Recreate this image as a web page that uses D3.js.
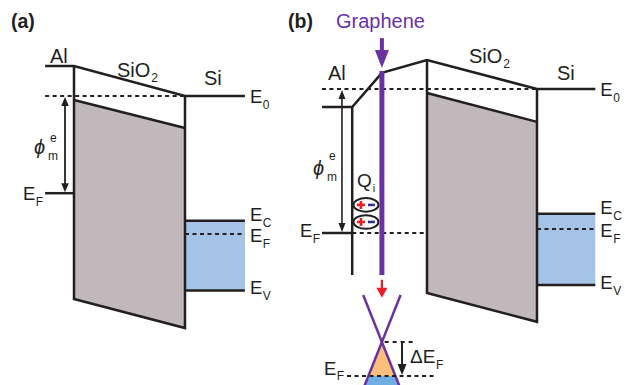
<!DOCTYPE html>
<html>
<head>
<meta charset="utf-8">
<script src="https://cdn.jsdelivr.net/npm/d3@7"></script>
<style>
  html, body { margin: 0; padding: 0; background: #fff; }
  svg { display: block; font-family: "Liberation Sans", Arial, Helvetica, sans-serif; }
</style>
</head>
<body>
<svg id="fig" width="625" height="385"></svg>
<script>
// Energies in eV relative to the Si vacuum level E0 (up = positive).
// Positions in nm, with the SiO2 layer spanning 0..10.

const panelTags = ["(a)", "(b)"];
const siLevelNames = ["0", "C", "F", "V"];          // E0, EC, EF, EV

// (a) Al / SiO2 / Si
const alStartA = -2.6, siEndA = 15.4;
const alVacuumA = 1.25, alFermiA = -4.05;
const oxTopA = [-0.17, -1.33];        // SiO2 conduction edge, Al side -> Si side
const oxBottomA = [-8.46, -9.67];     // SiO2 valence edge
const siLevelsA = [0, -5.2, -5.75, -8.1];
const phiArrowXA = -0.81;

// (b) Al / graphene / SiO2 / Si
const alStartB = -9.55, alWallB = -6.8, siEndB = 15.3;
const alVacuumB = -0.75, alFermiB = -6.0, alWallBottomB = -7.75;
const vacuumPathB = [[-4.1, 0.67], [0, 1.21]];   // vacuum level across the Al/graphene gap
const oxTopB = [-0.17, -1.37];
const oxBottomB = [-8.5, -9.7];
const siLevelsB = [0, -5.2, -5.83, -8.17];
const phiArrowXB = -7.73;
const grapheneX = -4.1, grapheneTop = 0.75, grapheneBottom = -7.75;
const grapheneArrow = [2.12, 0.87];               // tail, tip
const dipoleX = -5.55, dipoleLevels = [-4.83, -5.54];
const shiftArrow = [-7.95, -8.7];                 // tail, tip (red)

// Graphene Dirac cone
const diracE = -10.54, coneTopE = -8.58, coneBottomE = -12.6, coneTopHalf = 1.7;
const grapheneFermi = -11.96;
const deltaArrowX = -2.27, deltaDashEnd = -1.18;
const fermiDash = [-7.27, 0.9];

const INK = "#231f20", GRAY = "#c0b8ba", SIBLUE = "#a4c3e6";
const PURPLE = "#6a32a0", RED = "#ed1c24", ORANGE = "#f9bf7b", CONEBLUE = "#6faee3";

const svg = d3.select("#fig");
const line = d3.line();

function poly(g, pts, x, y, stroke, width, dash) {
  return g.append("path")
    .attr("d", line(pts.map(p => [x(p[0]), y(p[1])])))
    .attr("fill", "none").attr("stroke", stroke).attr("stroke-width", width)
    .attr("stroke-linejoin", "miter").attr("stroke-dasharray", dash || null);
}
function area(g, pts, x, y, fill) {
  return g.append("path")
    .attr("d", line(pts.map(p => [x(p[0]), y(p[1])])) + "Z")
    .attr("fill", fill).attr("stroke", "none");
}
// filled triangular head, tip at (px,py), pointing up (dir=-1) or down (dir=1)
function head(g, px, py, dir, len, half, fill) {
  g.append("path")
    .attr("d", `M${px},${py}L${px - half},${py - dir * len}L${px + half},${py - dir * len}Z`)
    .attr("fill", fill);
}
// text with an optional subscript run right after the main run
function txt(g, x, y, s, size, opts = {}) {
  const t = g.append("text").attr("x", x).attr("y", y).attr("font-size", size)
    .attr("fill", opts.fill || INK);
  t.append("tspan").text(s);
  if (opts.sub) {
    t.append("tspan").attr("font-size", opts.subSize || 12)
      .attr("dx", opts.subDx || 1).attr("dy", opts.subDy || 6).text(opts.sub);
  }
  if (opts.weight) t.attr("font-weight", opts.weight);
  if (opts.italic) t.attr("font-style", "italic");
  return t;
}
function eLabel(g, x, y, sub, size = 18.5, subDy = 6) {
  return txt(g, x, y, "E", size, { sub, subSize: 12, subDx: 0.5, subDy });
}

// ---------------- Panel (a) ----------------
{
  const g = svg.append("g");
  const x = d3.scaleLinear().domain([0, 10]).range([74, 185]);
  const y = d3.scaleLinear().domain([0, -1]).range([96, 120]);

  area(g, [[0, oxTopA[0]], [10, oxTopA[1]], [10, oxBottomA[1]], [0, oxBottomA[0]]], x, y, GRAY);
  area(g, [[10, siLevelsA[1]], [siEndA, siLevelsA[1]], [siEndA, siLevelsA[3]], [10, siLevelsA[3]]], x, y, SIBLUE);

  poly(g, [[alStartA, 0], [10, 0]], x, y, INK, 2, "4,3.5");
  poly(g, [[10, siLevelsA[2]], [siEndA, siLevelsA[2]]], x, y, INK, 2, "4,3.5");

  poly(g, [[alStartA, alVacuumA], [0, alVacuumA], [10, 0], [siEndA, 0]], x, y, INK, 2.5);
  poly(g, [[alStartA, alFermiA], [0, alFermiA]], x, y, INK, 2.5);
  poly(g, [[0, alVacuumA], [0, oxBottomA[0]], [10, oxBottomA[1]], [10, 0]], x, y, INK, 2.5);
  poly(g, [[0, oxTopA[0]], [10, oxTopA[1]]], x, y, INK, 2.5);
  poly(g, [[10, siLevelsA[1]], [siEndA, siLevelsA[1]]], x, y, INK, 2.5);
  poly(g, [[10, siLevelsA[3]], [siEndA, siLevelsA[3]]], x, y, INK, 2.5);

  // work-function arrow
  const ax = x(phiArrowXA);
  poly(g, [[phiArrowXA, -0.3], [phiArrowXA, alFermiA + 0.3]], x, y, INK, 1.8);
  head(g, ax, y(0) + 1, -1, 9, 3.8, INK);
  head(g, ax, y(alFermiA) - 1, 1, 9, 3.8, INK);

  txt(g, 11, 28, panelTags[0], 19.5, { weight: "bold" });
  txt(g, 50, 63, "Al", 20);
  txt(g, 117, 77, "SiO", 20, { sub: "2", subDx: 1, subDy: 5 });
  txt(g, 204, 85, "Si", 20);

  txt(g, 34, 154, "\u03D5", 20, { italic: true });
  txt(g, 50, 142, "e", 12);
  txt(g, 48, 160, "m", 12);
  eLabel(g, 23, y(alFermiA) + 7, "F");

  const lx = x(siEndA) + 5;
  const dys = [7, 0, 8, 4];
  siLevelsA.forEach((e, i) => eLabel(g, lx, y(e) + dys[i], siLevelNames[i]));
}

// ---------------- Panel (b) ----------------
{
  const g = svg.append("g");
  const x = d3.scaleLinear().domain([0, 10]).range([427, 537]);
  const y = d3.scaleLinear().domain([0, -1]).range([89, 113]);

  area(g, [[0, oxTopB[0]], [10, oxTopB[1]], [10, oxBottomB[1]], [0, oxBottomB[0]]], x, y, GRAY);
  area(g, [[10, siLevelsB[1]], [siEndB, siLevelsB[1]], [siEndB, siLevelsB[3]], [10, siLevelsB[3]]], x, y, SIBLUE);

  poly(g, [[alStartB, 0], [10, 0]], x, y, INK, 2, "4,3.5");
  poly(g, [[alWallB, alFermiB], [0, alFermiB]], x, y, INK, 2, "4,3.5");
  poly(g, [[10, siLevelsB[2]], [siEndB, siLevelsB[2]]], x, y, INK, 2, "4,3.5");

  poly(g, [[alStartB, alVacuumB], [alWallB, alVacuumB], ...vacuumPathB, [10, 0], [siEndB, 0]], x, y, INK, 2.5);
  poly(g, [[alWallB, alVacuumB], [alWallB, alWallBottomB]], x, y, INK, 2.5);
  poly(g, [[alStartB, alFermiB], [alWallB, alFermiB]], x, y, INK, 2.5);
  poly(g, [[0, vacuumPathB[1][1]], [0, oxBottomB[0]], [10, oxBottomB[1]], [10, 0]], x, y, INK, 2.5);
  poly(g, [[0, oxTopB[0]], [10, oxTopB[1]]], x, y, INK, 2.5);
  poly(g, [[10, siLevelsB[1]], [siEndB, siLevelsB[1]]], x, y, INK, 2.5);
  poly(g, [[10, siLevelsB[3]], [siEndB, siLevelsB[3]]], x, y, INK, 2.5);

  // work-function arrow
  const ax = x(phiArrowXB);
  poly(g, [[phiArrowXB, -0.3], [phiArrowXB, alFermiB + 0.3]], x, y, INK, 1.6);
  head(g, ax, y(0) + 1, -1, 9, 3.5, INK);
  head(g, ax, y(alFermiB) - 1, 1, 9, 3.5, INK);

  // interface dipoles Qi
  dipoleLevels.forEach(e => {
    const cx = x(dipoleX), cy = y(e);
    g.append("ellipse").attr("cx", cx).attr("cy", cy).attr("rx", 12.5).attr("ry", 6.8)
      .attr("fill", "#fff").attr("stroke", INK).attr("stroke-width", 2);
    g.append("path").attr("d", `M${cx - 9},${cy}h8M${cx - 5},${cy - 4}v8`)
      .attr("stroke", RED).attr("stroke-width", 2.6);
    g.append("path").attr("d", `M${cx + 2},${cy}h7`)
      .attr("stroke", "#2e3192").attr("stroke-width", 2.6);
  });

  // graphene sheet and incoming arrow
  const gx = x(grapheneX);
  poly(g, [[grapheneX, grapheneTop], [grapheneX, grapheneBottom]], x, y, PURPLE, 5);
  poly(g, [[grapheneX, grapheneArrow[0]], [grapheneX, grapheneArrow[1] + 0.6]], x, y, PURPLE, 4);
  head(g, gx, y(grapheneArrow[1]), 1, 18, 7, PURPLE);

  // red arrow down to the cone
  poly(g, [[grapheneX, shiftArrow[0]], [grapheneX, shiftArrow[1] + 0.35]], x, y, RED, 2.2);
  head(g, gx, y(shiftArrow[1]), 1, 10, 5.5, RED);

  // Dirac cone
  const hw = e => coneTopHalf * Math.abs(e - diracE) / Math.abs(coneTopE - diracE);
  area(g, [[grapheneX, diracE], [grapheneX - hw(grapheneFermi), grapheneFermi], [grapheneX + hw(grapheneFermi), grapheneFermi]], x, y, ORANGE);
  area(g, [[grapheneX - hw(grapheneFermi), grapheneFermi], [grapheneX + hw(grapheneFermi), grapheneFermi],
           [grapheneX + hw(coneBottomE), coneBottomE], [grapheneX - hw(coneBottomE), coneBottomE]], x, y, CONEBLUE);
  poly(g, [[grapheneX - coneTopHalf, coneTopE], [grapheneX + hw(coneBottomE), coneBottomE]], x, y, PURPLE, 2.5);
  poly(g, [[grapheneX + coneTopHalf, coneTopE], [grapheneX - hw(coneBottomE), coneBottomE]], x, y, PURPLE, 2.5);

  poly(g, [[grapheneX + 0.25, diracE], [deltaDashEnd, diracE]], x, y, INK, 2, "4,4");
  poly(g, [[fermiDash[0], grapheneFermi], [fermiDash[1], grapheneFermi]], x, y, INK, 2, "4,3.5");

  // Fermi-level shift arrow
  const dx = x(deltaArrowX);
  poly(g, [[deltaArrowX, diracE], [deltaArrowX, grapheneFermi + 0.3]], x, y, INK, 2);
  head(g, dx, y(grapheneFermi) - 1, 1, 11, 4.5, INK);

  txt(g, 288, 28, panelTags[1], 19.5, { weight: "bold" });
  txt(g, 336, 28, "Graphene", 20, { fill: PURPLE });
  txt(g, 328, 80, "Al", 20);
  txt(g, 469, 63, "SiO", 20, { sub: "2", subDx: 1, subDy: 5 });
  txt(g, 557, 80, "Si", 20);

  txt(g, 313, 175, "\u03D5", 20, { italic: true });
  txt(g, 329, 160, "e", 12);
  txt(g, 327, 181, "m", 12);
  txt(g, 357, 187, "Q", 19, { sub: "i", subSize: 11, subDx: 1, subDy: 5 });
  eLabel(g, 300, y(alFermiB) + 4, "F");

  const lx = x(siEndB) + 5;
  const dys = [7, 0, 8, 4];
  siLevelsB.forEach((e, i) => eLabel(g, lx, y(e) + dys[i], siLevelNames[i]));

  txt(g, 410, 363, "\u0394E", 19, { sub: "F", subSize: 12, subDx: 0.5, subDy: 6 });
  eLabel(g, 324, y(grapheneFermi) - 1, "F", 18.5, 5);
}
</script>
</body>
</html>
